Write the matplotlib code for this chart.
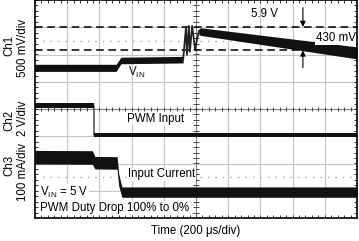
import matplotlib
matplotlib.use("Agg")
import matplotlib.pyplot as plt
import numpy as np

plt.rcParams['font.family'] = ['Liberation Sans', 'DejaVu Sans']
plt.rcParams['mathtext.fontset'] = 'custom'
plt.rcParams['mathtext.rm'] = 'Liberation Sans'
plt.rcParams['mathtext.it'] = 'Liberation Sans'

# ---- data (in scope divisions: x 0..10, y -4..4) ----
# Ch1: V_IN trace (center and half band width)
ch1_t = [0.0, 2.52, 2.67, 4.60]
ch1_v = [1.51, 1.51, 1.78, 1.81]
ch1_hw = [0.13, 0.13, 0.12, 0.12]
ch1_ring_t = [4.60, 4.69, 4.72, 4.78, 4.81, 4.88, 4.97, 5.09]
ch1_ring_v = [1.81, 3.01, 1.99, 3.05, 2.10, 3.05, 2.21, 2.86]
ch1_decay_t = [5.09, 5.15, 10.0]
ch1_decay_v = [2.84, 2.84, 2.06]
ch1_decay_hw = [0.11, 0.14, 0.22]

# Ch2: PWM input
ch2_t = [0.0, 1.83, 1.83, 10.0]
ch2_v = [0.12, 0.12, -0.95, -0.95]
ch2_hw = 0.085

# Ch3: input current
ch3_t = [0.0, 1.78, 1.86, 2.55, 2.60, 2.70, 10.0]
ch3_v = [-1.77, -1.78, -1.97, -1.98, -2.6, -3.05, -3.05]
ch3_hw = [0.25, 0.25, 0.23, 0.23, 0.22, 0.19, 0.19]

# cursor levels
vmax_level = 3.01
vmin_level = 2.15

fig = plt.figure(figsize=(3.59, 2.41), dpi=100)
ax = fig.add_axes([35/359, (241-218)/241, 322/359, 218/241])
ax.set_xlim(0, 10)
ax.set_ylim(-4, 4)

gridc = '#c4c4c4'
for gx in range(1, 10):
    ax.axvline(gx, color=gridc, lw=0.8, zorder=1)
for gy in range(-3, 4):
    ax.axhline(gy, color=gridc, lw=0.8, zorder=1)
for gy in (2.5, -2.5):
    ax.axhline(gy, color='#9a9a9a', lw=0.9, ls=(0, (1, 5)), zorder=1)
# center axes
ax.axvline(5, color='#888888', lw=0.8, zorder=1)
ax.axhline(0, color='#888888', lw=0.8, zorder=1)
tick_x = np.arange(0, 10.01, 0.2)
tick_y = np.arange(-4, 4.01, 0.2)
tl = 0.09
ax.vlines(tick_x, -tl, tl, color='#444444', lw=0.7, zorder=2)
ax.hlines(tick_y, 5 - 0.08, 5 + 0.08, color='#444444', lw=0.7, zorder=2)
# frame ticks
ax.vlines(tick_x, 4 - 0.11, 4, color='#333333', lw=0.7, zorder=2)
ax.vlines(tick_x, -4, -4 + 0.11, color='#333333', lw=0.7, zorder=2)
ax.hlines(tick_y, 0, 0.1, color='#333333', lw=0.7, zorder=2)
ax.hlines(tick_y, 10 - 0.1, 10, color='#333333', lw=0.7, zorder=2)

# cursors
ax.axhline(vmax_level, color='black', lw=1.1, ls=(0, (5, 3)), zorder=3)
ax.axhline(vmin_level, color='black', lw=1.1, ls=(0, (5, 3)), zorder=3)

tc = '#111111'
# Ch1
c1t = np.array(ch1_t); c1v = np.array(ch1_v); c1h = np.array(ch1_hw)
ax.fill_between(c1t, c1v - c1h, c1v + c1h, color=tc, lw=0, zorder=4)
ax.plot(ch1_ring_t, ch1_ring_v, color='#222222', lw=1.3, zorder=4)
cdt = np.array(ch1_decay_t); cdv = np.array(ch1_decay_v); cdh = np.array(ch1_decay_hw)
ax.fill_between(cdt, cdv - cdh, cdv + cdh, color=tc, lw=0, zorder=4)

# Ch2
c2t = np.array(ch2_t); c2v = np.array(ch2_v)
ax.plot(c2t, c2v, color='#666666', lw=1.3, zorder=3.5)
ax.fill_between(c2t, c2v - ch2_hw, c2v + ch2_hw, color=tc, lw=0, zorder=4)

# Ch3
c3t = np.array(ch3_t); c3v = np.array(ch3_v); c3h = np.array(ch3_hw)
ax.fill_between(c3t, c3v - c3h, c3v + c3h, color=tc, lw=0, zorder=4)

# arrows
ax.annotate('', xy=(8.32, vmax_level), xytext=(8.32, 3.72),
            arrowprops=dict(arrowstyle='-|>', color='black', lw=0.8,
                            mutation_scale=8, shrinkA=0, shrinkB=0), zorder=5)
ax.annotate('', xy=(8.32, vmin_level), xytext=(8.32, 1.52),
            arrowprops=dict(arrowstyle='-|>', color='black', lw=0.8,
                            mutation_scale=8, shrinkA=0, shrinkB=0), zorder=5)

fs = 8.3
wb = dict(facecolor='white', edgecolor='none', pad=0.5)
ax.text(7.12, 3.49, '5.9 V', fontsize=fs, ha='center', va='center', zorder=6)
ax.text(9.95, 2.60, '430 mV', fontsize=fs, ha='right', va='center', zorder=6, bbox=wb)
ax.text(2.88, 1.35, r'V$_{\rm IN}$', fontsize=fs, ha='left', va='center', zorder=6)
ax.text(2.86, -0.35, 'PWM Input', fontsize=fs, ha='left', va='center', zorder=6, bbox=wb)
ax.text(2.88, -2.40, 'Input Current', fontsize=fs, ha='left', va='center', zorder=6, bbox=wb)
ax.text(0.16, -3.05, r'V$_{\rm IN}$ = 5 V', fontsize=fs, ha='left', va='center', zorder=6, bbox=wb)
ax.text(0.16, -3.63, 'PWM Duty Drop 100% to 0%', fontsize=fs, ha='left', va='center', zorder=6, bbox=wb)

ax.set_xticks([]); ax.set_yticks([])
for s in ax.spines.values():
    s.set_linewidth(1.2)
    s.set_zorder(7)

# left labels
fig.text(9/359, 1 - 45/241, 'Ch1', rotation=90, fontsize=fs, ha='center', va='center')
fig.text(23/359, 1 - 48/241, '500 mV/div', rotation=90, fontsize=fs, ha='center', va='center')
fig.text(9/359, 1 - 120/241, 'Ch2', rotation=90, fontsize=fs, ha='center', va='center')
fig.text(23/359, 1 - 118/241, '2 V/div', rotation=90, fontsize=fs, ha='center', va='center')
fig.text(9/359, 1 - 165/241, 'Ch3', rotation=90, fontsize=fs, ha='center', va='center')
fig.text(23/359, 1 - 172/241, '100 mA/div', rotation=90, fontsize=fs, ha='center', va='center')
fig.text(196/359, 1 - 231/241, 'Time (200 μs/div)', fontsize=fs, ha='center', va='center')

fig.savefig('out.png', dpi=100)
